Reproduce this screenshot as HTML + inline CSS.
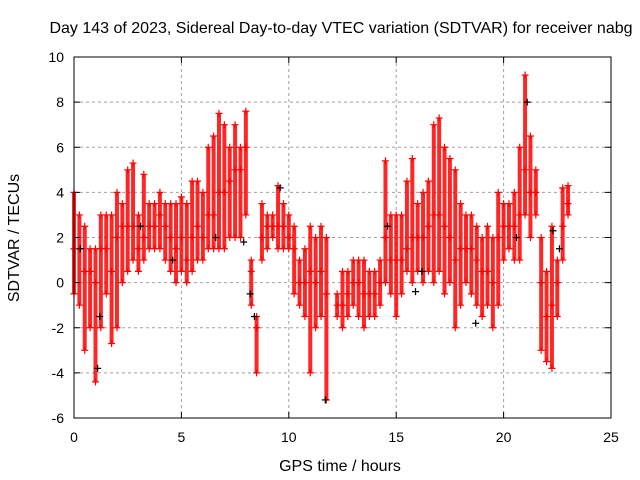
<!DOCTYPE html>
<html><head><meta charset="utf-8"><style>
body{margin:0;background:#fff}
svg{display:block;font-family:"Liberation Sans",sans-serif}
</style></head><body>
<svg id="chart" width="640" height="480">
<rect width="640" height="480" fill="#fff"/>
<text x="341" y="33" font-size="16" text-anchor="middle">Day 143 of 2023, Sidereal Day-to-day VTEC variation (SDTVAR) for receiver nabg</text>
<text x="340" y="471" font-size="16" text-anchor="middle">GPS time / hours</text>
<text transform="translate(19,238) rotate(-90)" font-size="16" text-anchor="middle">SDTVAR / TECUs</text>
<g id="grid"></g><g id="marks"></g><g id="axes"></g>
</svg>
<script>
const xTicks=[0,5,10,15,20,25];
const yTicks=[-6,-4,-2,0,2,4,6,8,10];
const times=[0,0.25,0.5,0.75,1,1.25,1.5,1.75,2,2.25,2.5,2.75,3,3.25,3.5,3.75,4,4.25,4.5,4.75,5,5.25,5.5,5.75,6,6.25,6.5,6.75,7,7.25,7.5,7.75,8,8.25,8.5,8.75,9,9.25,9.5,9.75,10,10.25,10.5,10.75,11,11.25,11.5,11.75,12.25,12.5,12.75,13,13.25,13.5,13.75,14,14.25,14.5,14.75,15,15.25,15.5,15.75,16,16.25,16.5,16.75,17,17.25,17.5,17.75,18,18.25,18.5,18.75,19,19.25,19.5,19.75,20,20.25,20.5,20.75,21,21.25,21.5,21.75,22,22.25,22.5,22.75,23];
const lows=[-0.5,-1,-3,-2,-4.4,-2,-0.5,-2.7,-2,0,0.5,1,0.5,1,1.5,1.5,1.5,1,0.5,0,0.5,0,0.5,1,1,1.5,1.5,1.5,1.5,2,2,2,3,-1,-4,1,1.5,2,1.5,1.5,1.5,-0.5,-1,-1.5,-4,-2,-1.5,-5.2,-1.5,-2,-1.5,-1,-1.5,-2,-1.5,-1.5,-1,0,-0.5,-1.5,-0.5,0.5,0,0.5,0,0.5,0,0.5,-0.5,0,-2,-1,0,-0.5,-1,-1.5,-1,-2,-1,1,1.5,1,1,3,2,3,-3,-3.5,-3.8,-1.5,1,3];
const highs=[4,3,2.5,1.5,1.5,3,3,3,4,3.5,5,5.3,3,4.8,3.5,3.5,4,3.5,3.5,3.5,3.8,3.5,4.5,4.5,4,6,6.5,7.5,7,6,7,6,7.6,1,-1.5,3.5,3,3,4.3,3.5,3,2.5,1,1.5,2.5,2,2.5,2,-0.5,0.5,0.5,1,1,1,0.5,0.5,1,5.4,3,3,3,4.5,5.5,3.5,4,4.5,7,7.3,6,5.5,5,3.5,3,3,2.5,2,2.5,2,4,3.5,3.5,4,6,9.2,6.5,5,2,0.5,2.5,1,4.2,4.3];
const mids=[1.5,1.5,0.5,0.5,0,1.5,1.5,0.5,2,2.5,2.5,2.5,1.5,2,2.5,2.5,3,2.5,2,1.5,2,1,2,2.5,2,3,3,4,4,4.5,5,5,6,0.5,-2,2,2.5,2.5,2.5,2.5,2,1.5,0,0,0.5,0,0.5,-0.5,-1,-1,-0.5,0,0,-0.5,-0.5,-0.5,0,2,1,1,1,1.5,2,2,2,2.5,3,3,2.5,2,1,1.5,1.5,1.5,1,0.5,0.5,0,2,2.5,2.5,2.5,3,5,4,4,0,-1.5,-1,0,2.5,3.5];
const blackT=[0.3,1.1,1.2,3.1,4.6,6.6,7.9,8.2,8.4,9.6,11.7,14.6,15.9,16.2,18.7,20.6,21.1,22.3,22.6];
const blackV=[1.5,-3.8,-1.5,2.5,1,2,1.8,-0.5,-1.5,4.2,-5.2,2.5,-0.4,0.5,-1.8,2,8,2.3,1.5];
const L=74,R=611,T=57,B=418;
const sx=v=>L+(v-0)/(25-0)*(R-L);
const sy=v=>B-(v+6)/(10+6)*(B-T);
const NS="http://www.w3.org/2000/svg";
function mk(tag,parent,attrs){const e=document.createElementNS(NS,tag);for(const k in attrs)e.setAttribute(k,attrs[k]);parent.appendChild(e);return e;}
const grid=document.getElementById('grid'),marks=document.getElementById('marks'),axes=document.getElementById('axes');
xTicks.forEach(t=>{
  if(t>0&&t<25){const g=mk('line',grid,{x1:sx(t),x2:sx(t),y1:T,y2:B,stroke:'#a0a0a0','stroke-dasharray':'3,3'});
  
  }
  const tx=mk('text',axes,{x:sx(t),y:B+24,'font-size':14,'text-anchor':'middle'});tx.textContent=t;
  
  
  mk('line',axes,{x1:sx(t),x2:sx(t),y1:B,y2:B-6,stroke:'#000'});
  mk('line',axes,{x1:sx(t),x2:sx(t),y1:T,y2:T+6,stroke:'#000'});
});
yTicks.forEach(t=>{
  if(t>-6&&t<10){const g=mk('line',grid,{x1:L,x2:R,y1:sy(t),y2:sy(t),stroke:'#a0a0a0','stroke-dasharray':'3,3'});
  
  }
  const tx=mk('text',axes,{x:L-10,y:sy(t)+5,'font-size':14,'text-anchor':'end'});tx.textContent=t;
  
  
  mk('line',axes,{x1:L,x2:L+6,y1:sy(t),y2:sy(t),stroke:'#000'});
  mk('line',axes,{x1:R,x2:R-6,y1:sy(t),y2:sy(t),stroke:'#000'});
});
const frame=mk('rect',axes,{x:L,y:T,width:R-L,height:B-T,fill:'none',stroke:'#000','stroke-width':1});


function plus(x,y,c){const p=mk('path',marks,{d:`M${x-3.5},${y}h7M${x},${y-3.5}v7`,stroke:c,'stroke-width':1.2,fill:'none'});return p;}
times.forEach((t,i)=>{
  const band=mk('line',marks,{x1:sx(t),x2:sx(t),y1:sy(lows[i]),y2:sy(highs[i]),stroke:'#ff0000','stroke-width':4,'stroke-opacity':0.85});
  
  
  [lows[i],mids[i],highs[i]].forEach(v=>{
    const p=plus(sx(t),sy(v),'#ff0000');
    
    
  });
});
blackT.forEach((t,i)=>{
  const p=plus(sx(t),sy(blackV[i]),'#000');
  
  
});
</script>
</body></html>
